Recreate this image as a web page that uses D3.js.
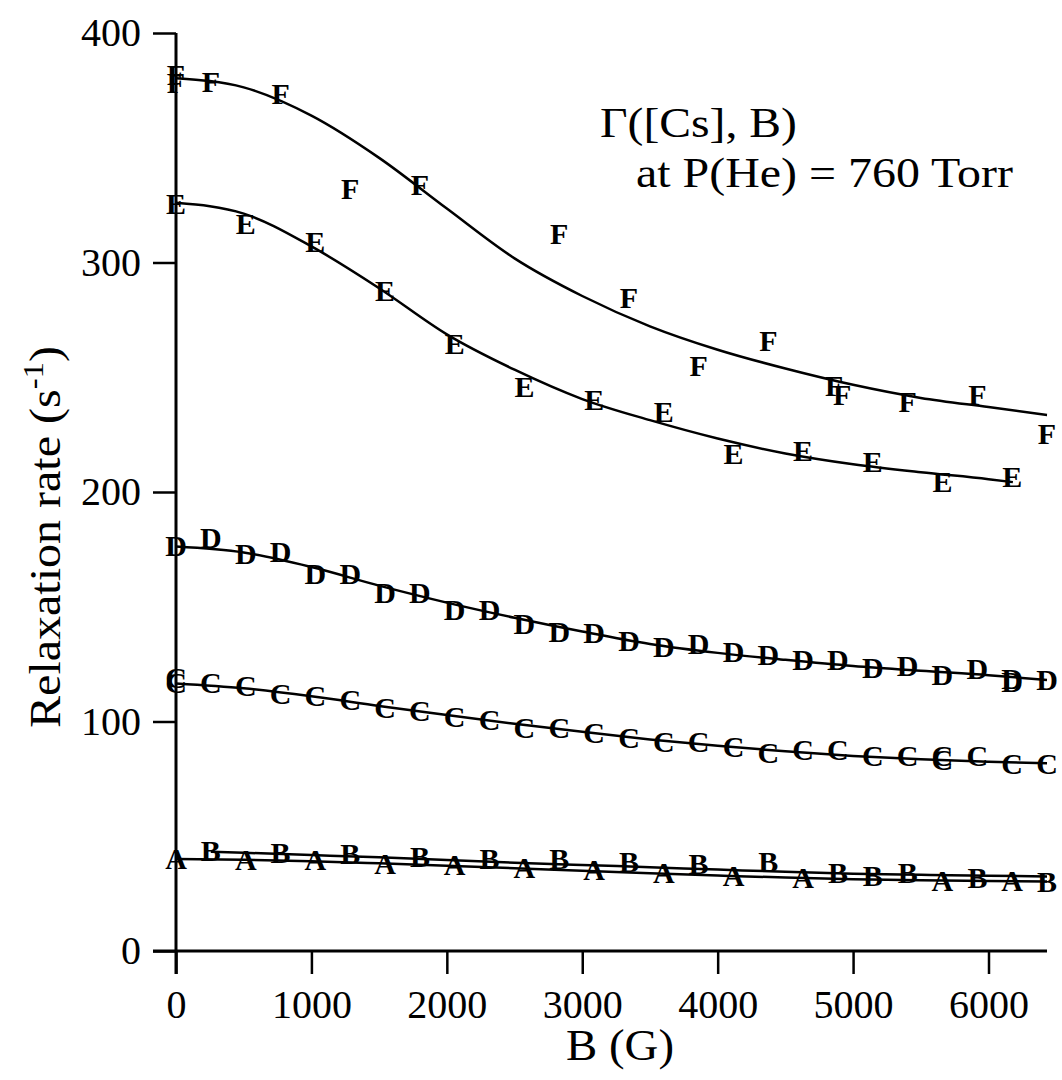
<!DOCTYPE html>
<html>
<head>
<meta charset="utf-8">
<script src="https://cdn.jsdelivr.net/npm/d3@7"></script>
<style>
  html, body { margin: 0; padding: 0; background: #fff; }
  svg { display: block; }
  text { font-family: "Liberation Serif", "Times New Roman", serif; fill: #000; }
</style>
</head>
<body>
<svg id="chart" width="1062" height="1080"></svg>
<script>
// Measured relaxation rates (s^-1) versus field B (G), one letter per Cs density.
const seriesA_B = [0, 515, 1029, 1544, 2058, 2573, 3088, 3602, 4117, 4631, 5660, 6175];
const seriesA_V = [40.5, 39.7, 39.7, 38.3, 37.5, 36.6, 35.3, 34.0, 33.1, 32.2, 30.9, 30.9];

const seriesB_B = [257, 772, 1287, 1801, 2316, 2830, 3345, 3859, 4374, 4888, 5146, 5403, 5918, 6432];
const seriesB_V = [44.0, 43.1, 42.7, 41.0, 40.5, 40.1, 38.8, 38.3, 38.8, 34.0, 33.1, 34.4, 32.2, 30.5];

const seriesC_B = [0, 0, 257, 515, 772, 1029, 1287, 1544, 1801, 2058, 2316, 2573, 2830, 3088, 3345, 3602, 3859, 4117, 4374, 4631, 4888, 5146, 5403, 5660, 5660, 5918, 6175, 6432];
const seriesC_V = [119.0, 117.0, 116.8, 115.5, 112.4, 111.5, 109.4, 105.9, 105.0, 102.0, 100.7, 97.6, 97.6, 95.0, 93.2, 91.1, 91.1, 88.9, 86.7, 87.6, 87.6, 85.4, 85.4, 85.0, 83.4, 85.4, 81.9, 81.9];

const seriesD_B = [0, 257, 515, 772, 1029, 1287, 1544, 1801, 2058, 2316, 2573, 2830, 3088, 3345, 3602, 3859, 4117, 4374, 4631, 4888, 5146, 5403, 5660, 5918, 6175, 6175, 6432];
const seriesD_V = [176.6, 180.0, 173.4, 174.0, 164.7, 164.7, 156.4, 156.0, 148.6, 148.6, 142.9, 139.0, 138.6, 135.5, 132.5, 134.2, 130.3, 129.0, 126.8, 126.8, 123.7, 124.6, 120.3, 123.3, 118.7, 117.6, 118.1];

const seriesE_B = [0, 515, 1029, 1544, 2058, 2573, 3088, 3602, 4117, 4631, 5146, 5660, 6175];
const seriesE_V = [325.8, 317.1, 309.1, 288.0, 264.9, 245.9, 240.1, 235.0, 216.9, 218.3, 213.2, 204.5, 206.7];

const seriesF_B = [0, 0, 257, 772, 1287, 1801, 2830, 3345, 3859, 4374, 4860, 4920, 5403, 5918, 6432];
const seriesF_V = [382.0, 378.5, 378.8, 373.7, 332.3, 333.8, 312.7, 284.8, 255.3, 266.2, 246.6, 242.3, 239.3, 242.3, 225.6];

// Fitted curves, sampled along B over each series' own range.
const fitGrid   = [0, 500, 1000, 1500, 2000, 2500, 3000, 3500, 4000, 4500, 5000, 5500, 6000, 6432];
const fitGridB  = [257, 500, 1000, 1500, 2000, 2500, 3000, 3500, 4000, 4500, 5000, 5500, 6000, 6432];
const fitGridE  = [0, 500, 1000, 1500, 2000, 2500, 3000, 3500, 4000, 4500, 5000, 5500, 6000, 6180];
const fitA = [40.1, 39.8, 39.1, 38.2, 37.2, 36.1, 35.0, 33.9, 32.9, 32.0, 31.3, 30.8, 30.5, 30.3];
const fitB = [43.3, 42.8, 41.8, 40.8, 39.6, 38.5, 37.5, 36.5, 35.5, 34.5, 33.7, 33.2, 32.8, 32.5];
const fitC = [116.6, 114.5, 111.0, 106.8, 102.8, 99.0, 95.5, 92.2, 89.4, 87.0, 85.0, 83.5, 82.5, 81.8];
const fitD = [176.2, 173.6, 167.3, 159.2, 151.8, 145.2, 139.2, 133.8, 129.9, 126.9, 124.2, 122.1, 120.2, 118.1];
const fitE = [326.0, 321.3, 307.0, 288.8, 268.7, 253.3, 240.5, 231.3, 223.3, 216.8, 212.1, 208.6, 205.6, 204.3];
const fitF = [380.3, 376.3, 364.0, 345.6, 323.5, 301.8, 285.4, 272.2, 262.0, 253.8, 246.7, 241.0, 237.0, 233.6];

const xTicks = [0, 1000, 2000, 3000, 4000, 5000, 6000];
const yTicks = [0, 100, 200, 300, 400];

const svg = d3.select("#chart");

const x = d3.scaleLinear().domain([0, 6432]).range([176, 1047]);
const y = d3.scaleLinear().domain([0, 400]).range([951, 33]);

const tickLen = 23;

// Axes
const gx = svg.append("g").attr("transform", `translate(0,${y(0)})`)
  .call(d3.axisBottom(x).tickValues(xTicks).tickFormat(d3.format("d"))
    .tickSize(tickLen).tickSizeOuter(0).tickPadding(10));
gx.select(".domain").remove();
gx.attr("font-family", null);
gx.selectAll(".tick line").attr("stroke", "#000").attr("stroke-width", 2.5);
gx.selectAll(".tick text").attr("font-size", 40).attr("dy", "0.85em");

const gy = svg.append("g").attr("transform", `translate(${x(0)},0)`)
  .call(d3.axisLeft(y).tickValues(yTicks).tickFormat(d3.format("d"))
    .tickSize(tickLen).tickSizeOuter(0).tickPadding(12));
gy.select(".domain").remove();
gy.attr("font-family", null);
gy.selectAll(".tick line").attr("stroke", "#000").attr("stroke-width", 2.5);
gy.selectAll(".tick text").attr("font-size", 40);

// Axis lines, extended by one tick length past the origin
svg.append("line").attr("x1", x(0)).attr("x2", x(0))
  .attr("y1", y(400)).attr("y2", y(0) + tickLen)
  .attr("stroke", "#000").attr("stroke-width", 3);
svg.append("line").attr("x1", x(0) - tickLen).attr("x2", x.range()[1])
  .attr("y1", y(0)).attr("y2", y(0))
  .attr("stroke", "#000").attr("stroke-width", 3);

// Text stretched horizontally to a given run length.
function stretched(parent, transform, width, size, anchor) {
  const g = parent.append("g");
  const t = g.append("text").attr("font-size", size).attr("text-anchor", anchor);
  return { g, t, fit() {
    const w = t.node().getBBox().width;
    g.attr("transform", `${transform} scale(${width / w},1)`);
  } };
}

// Axis titles
const xt = stretched(svg, "translate(620,1060)", 108, 44, "middle");
xt.t.text("B (G)");
xt.fit();

const yt = stretched(svg, "translate(60,537) rotate(-90)", 382, 44, "middle");
yt.t.append("tspan").text("Relaxation rate (s");
yt.t.append("tspan").attr("font-size", 30).attr("dy", -17).text("-1");
yt.t.append("tspan").attr("dy", 17).text(")");
yt.fit();

// Fit curves
const line = d3.line().x(d => x(d[0])).y(d => y(d[1])).curve(d3.curveMonotoneX);
const fits = [
  [fitGrid, fitA], [fitGridB, fitB], [fitGrid, fitC], [fitGrid, fitD], [fitGridE, fitE], [fitGrid, fitF]
];
svg.append("g").selectAll("path").data(fits).join("path")
  .attr("d", f => line(d3.zip(f[0], f[1])))
  .attr("fill", "none").attr("stroke", "#000").attr("stroke-width", 2.5);

// Letter markers
const series = [
  ["A", seriesA_B, seriesA_V], ["B", seriesB_B, seriesB_V], ["C", seriesC_B, seriesC_V],
  ["D", seriesD_B, seriesD_V], ["E", seriesE_B, seriesE_V], ["F", seriesF_B, seriesF_V]
];
const pts = series.flatMap(([k, bs, vs]) => bs.map((b, i) => ({ k, b, v: vs[i] })));
svg.append("g").selectAll("text").data(pts).join("text")
  .attr("x", d => x(d.b)).attr("y", d => y(d.v))
  .attr("text-anchor", "middle").attr("dominant-baseline", "central")
  .attr("font-size", 30).attr("font-weight", "bold")
  .text(d => d.k);

// Annotation
const a1 = stretched(svg, "translate(600,137)", 197, 42, "start");
a1.t.text("Γ([Cs], B)");
a1.fit();
const a2 = stretched(svg, "translate(636,187)", 377, 42, "start");
a2.t.text("at P(He) = 760 Torr");
a2.fit();
</script>
</body>
</html>
